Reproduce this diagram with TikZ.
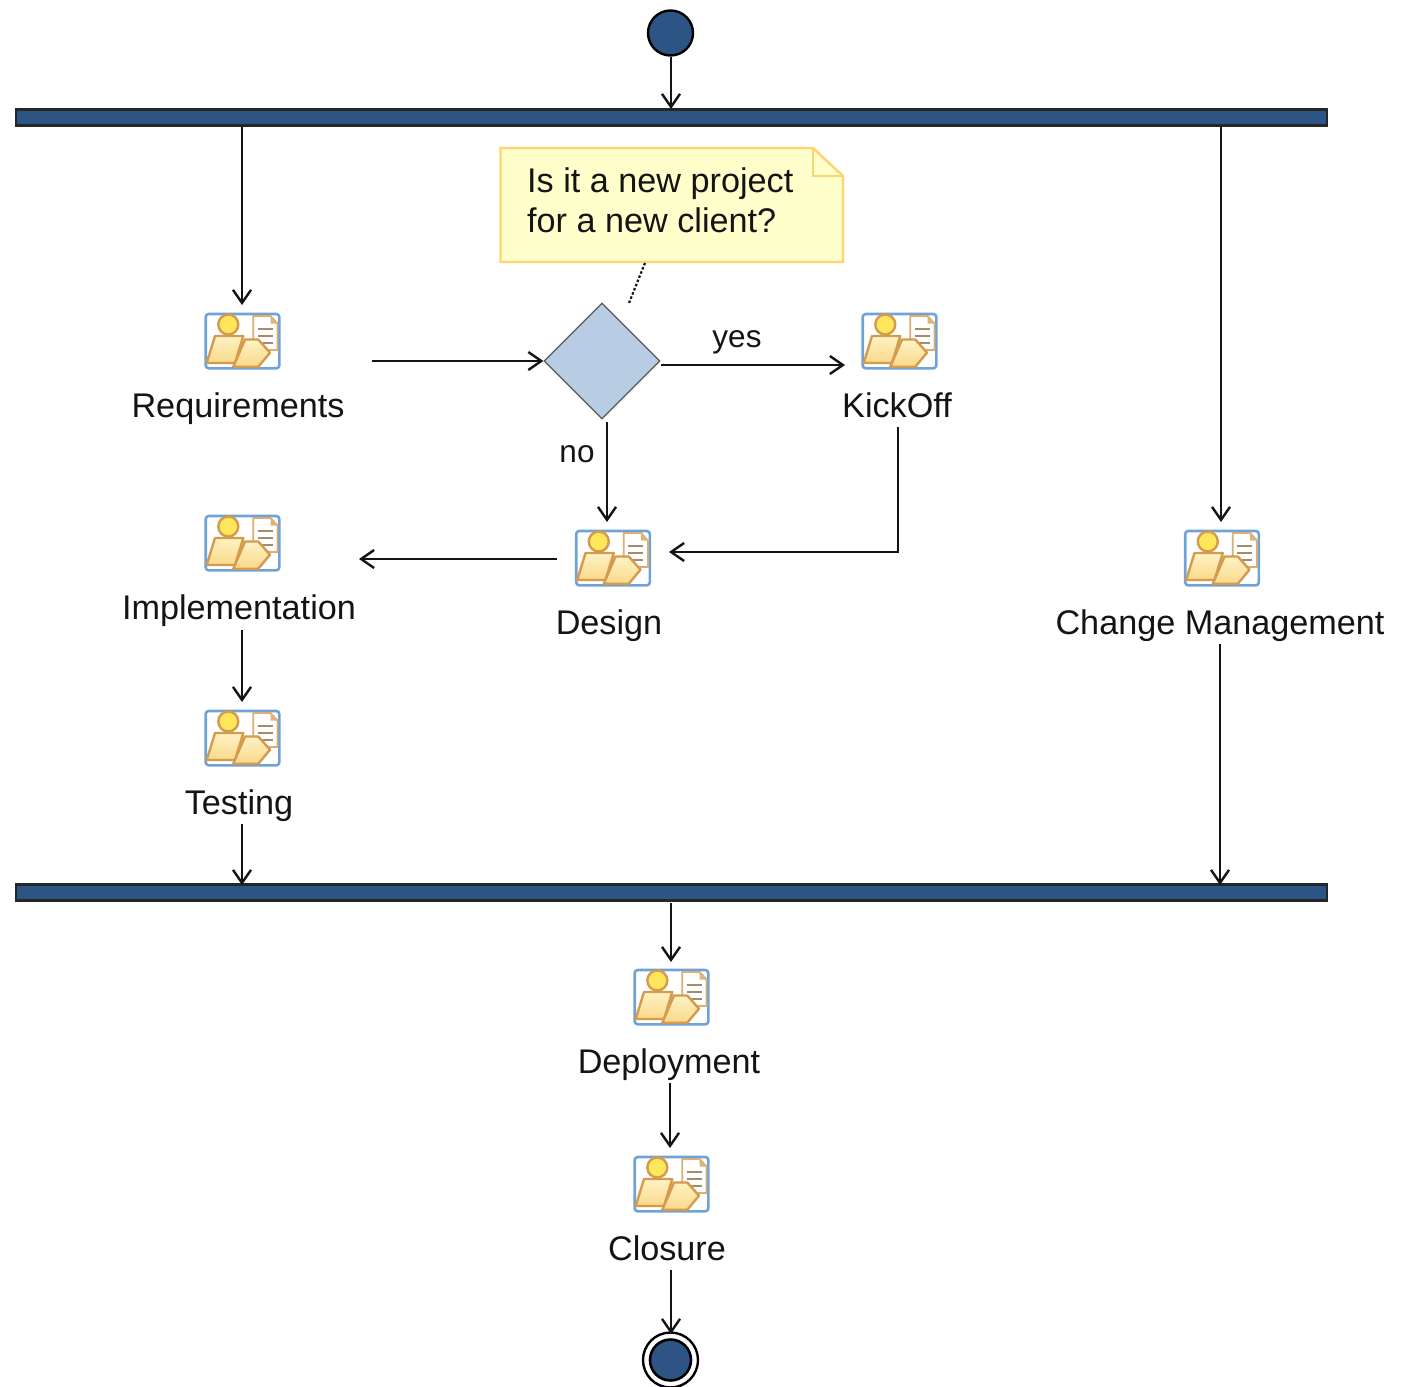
\documentclass[tikz,border=0pt]{standalone}
\usepackage{fontspec}
\setmainfont{Liberation Sans}
\usetikzlibrary{arrows.meta,shapes.geometric}
\definecolor{umlnavy}{HTML}{2C5585}
\definecolor{umlblue}{HTML}{B8CCE4}
\definecolor{notefill}{HTML}{FFFFCC}
\definecolor{noteedge}{HTML}{FFD46E}
\definecolor{iconblue}{HTML}{6FA3D8}
\definecolor{iconedge}{HTML}{D49A4E}
\definecolor{iconfill}{HTML}{F9D98A}
\definecolor{iconlight}{HTML}{FFF2C4}
\definecolor{iconhead}{HTML}{FFE75C}
\definecolor{ink}{HTML}{141414}
\tikzset{
  x=1pt,y=-1pt,
  flow/.style={draw=ink,line width=2.4pt,-{Straight Barb[length=13pt,width=18pt,line width=2.4pt]}},
  forkbar/.style={rectangle,draw=black!85,line width=2.2pt,fill=umlnavy,inner sep=0pt,minimum width=1311pt,minimum height=16pt},
  startdot/.style={circle,draw=black,line width=2.4pt,fill=umlnavy,inner sep=0pt,minimum size=45pt},
  enddot/.style={circle,draw=black,line width=2.6pt,fill=umlnavy,inner sep=0pt,minimum size=41pt},
  endring/.style={circle,draw=black,line width=2.4pt,fill=white,inner sep=0pt,minimum size=55pt},
  decision/.style={diamond,aspect=1,draw=black!65,line width=1.2pt,fill=umlblue,inner sep=0pt,minimum size=116pt},
  iconbox/.style={rectangle,inner sep=0pt,minimum width=74pt,minimum height=55pt},
  lab/.style={anchor=base,inner sep=0pt,text=ink,font=\fontsize{34.2}{40}\selectfont},
  edgelab/.style={anchor=base,inner sep=0pt,text=ink,font=\fontsize{31.5}{38}\selectfont},
  notetext/.style={anchor=base west,inner sep=0pt,text=ink,font=\fontsize{34.2}{40}\selectfont},
  acticon/.pic={
    \fill[white,rounded corners=3pt] (-36.8,-27) rectangle (36.8,27.3);
    \draw[iconblue,line width=2.6pt,rounded corners=3pt] (-36.8,-27) rectangle (36.8,27.3);
    \draw[iconedge!80!white,fill=white,line width=1.8pt] (10.8,-25)--(28,-25)--(35,-17.5)--(35,9)--(10.8,9)--cycle;
    \fill[iconedge!75!white] (28,-25)--(35,-17.5)--(28,-17.5)--cycle;
    \foreach \yy in {-11.7,-5,2.3}{\draw[iconedge!45!gray,line width=2pt] (15,\yy)--(30,\yy);}
    \draw[iconedge,fill=iconhead,line width=2.4pt] (-14.2,-16.5) circle (10);
    \draw[iconedge,top color=iconlight,bottom color=iconfill,line width=2.4pt,line join=round] (-27.5,-5)--(0.8,-5)--(-7.5,22)--(-35.8,22)--cycle;
    \draw[iconedge,top color=iconlight,bottom color=iconfill,line width=2.4pt,line join=round] (2.5,-1.5)--(15.8,-1.5)--(27.5,11.7)--(15.8,25.7)--(-9.2,25.7)--cycle;
  }
}
\newcommand{\activity}[6]{%
  \node[iconbox] (#1) at (#2,#3) {};
  \pic at (#1) {acticon};
  \node[lab] (#1L) at (#4,#5) {#6};
}
\begin{document}
\begin{tikzpicture}
\useasboundingbox (0,0) rectangle (1401,1387);
\fill[white] (0,0) rectangle (1401,1387);

\node[startdot] (start) at (670.5,33) {};
\node[forkbar] (fork) at (671.5,117.5) {};
\node[forkbar] (join) at (671.5,892.5) {};
\node[endring] (endO) at (670.5,1360) {};
\node[enddot] (endI) at (670.5,1360) {};
\node[decision] (dec) at (602,361) {};

\activity{req}{242.5}{341}{238}{417}{Requirements}
\activity{kick}{899.5}{341}{897}{417}{KickOff}
\activity{impl}{242.5}{543}{239}{619}{Implementation}
\activity{des}{613}{558}{609}{634}{Design}
\activity{chg}{1222}{558}{1220}{634}{Change Management}
\activity{test}{242.5}{738}{239}{814}{Testing}
\activity{dep}{671.5}{997}{669}{1073}{Deployment}
\activity{clo}{671.5}{1184}{667}{1260}{Closure}

% note
\draw[noteedge,fill=notefill,line width=2.4pt,line join=miter]
  (500.5,148)--(813,148)--(843,176)--(843,262)--(500.5,262)--cycle;
\draw[noteedge,line width=2.4pt] (813,148)--(813,176)--(843,176);
\node[notetext] (noteA) at (527,192) {Is it a new project};
\node[notetext] (noteB) at (527,232) {for a new client?};
\coordinate (noteEnd) at (645,263);
\coordinate (decEnd) at (629,303);
\draw[ink,line width=2.2pt,dash pattern=on 2.5pt off 2pt] (noteEnd)--(decEnd);

\node[edgelab] (yes) at (737,347) {yes};
\node[edgelab] (no) at (577,462) {no};

% connector end points
\coordinate (a1) at (671,57);
\coordinate (a2) at (671,109);
\coordinate (b1) at (242,127);
\coordinate (b2) at (242,305);
\coordinate (c1) at (372,361);
\coordinate (d1) at (661,365);
\coordinate (d2) at (845,365);
\coordinate (e1) at (607,422);
\coordinate (e2) at (607,522);
\coordinate (f1) at (898,427);
\coordinate (f2) at (669,552);
\coordinate (g1) at (557,559);
\coordinate (g2) at (359,559);
\coordinate (h1) at (242,630);
\coordinate (h2) at (242,702);
\coordinate (i1) at (242,824);
\coordinate (i2) at (242,885);
\coordinate (j1) at (1221,127);
\coordinate (j2) at (1221,522);
\coordinate (k1) at (1220,644);
\coordinate (k2) at (1220,885);
\coordinate (l1) at (671,903);
\coordinate (l2) at (671,962);
\coordinate (m1) at (670,1083);
\coordinate (m2) at (670,1148);
\coordinate (n1) at (671,1270);
\coordinate (n2) at (671,1334);

\draw[flow] (a1)--(a2);
\draw[flow] (b1)--(b2);
\draw[flow] (c1)--(dec.west);
\draw[flow] (d1)--(d2);
\draw[flow] (e1)--(e2);
\draw[flow] (f1)|-(f2);
\draw[flow] (g1)--(g2);
\draw[flow] (h1)--(h2);
\draw[flow] (i1)--(i2);
\draw[flow] (j1)--(j2);
\draw[flow] (k1)--(k2);
\draw[flow] (l1)--(l2);
\draw[flow] (m1)--(m2);
\draw[flow] (n1)--(n2);
\end{tikzpicture}
\end{document}
